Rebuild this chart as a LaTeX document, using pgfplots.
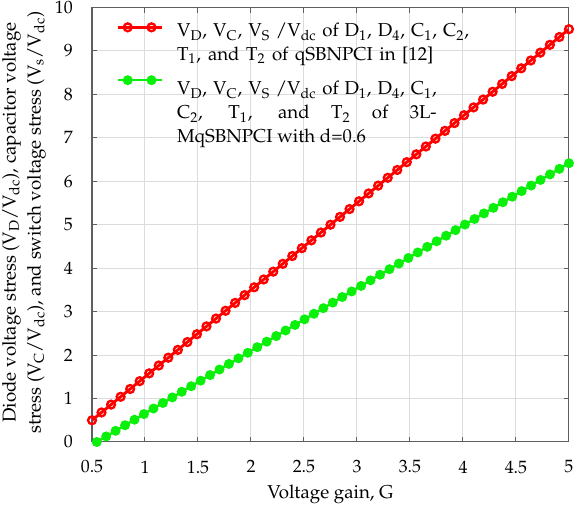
\documentclass[border=0pt]{standalone}
\usepackage[T1]{fontenc}
\usepackage{mathpazo}
\usepackage{pgfplots}
\pgfplotsset{compat=1.18}
\definecolor{myred}{RGB}{255,0,0}
\definecolor{mygreen}{RGB}{10,240,10}
\definecolor{gridgray}{RGB}{220,220,220}
\definecolor{framegray}{RGB}{95,95,95}
\newcommand{\sub}[1]{\textsubscript{#1}}
% struts for the legend rows
\newcommand{\rs}{\rule{0pt}{12.5pt}}
\newcommand{\rsgap}{\rule{0pt}{18.8pt}}
\begin{document}
\begin{tikzpicture}
\begin{axis}[
    width=281pt, height=256pt, scale only axis,
    xmin=0.5, xmax=5, ymin=0, ymax=10,
    xtick={0.5,1,...,5}, ytick={0,1,...,10},
    grid=major, major grid style={gridgray, line width=0.6pt},
    axis line style={framegray, line width=0.6pt},
    tick style={framegray, line width=0.6pt}, tick align=inside,
    major tick length=3pt,
    ticklabel style={font=\fontsize{10.5}{12}\selectfont},
    xticklabel style={yshift=-7.5pt},
    yticklabel style={xshift=-7.8pt},
    xlabel={Voltage gain, G},
    xlabel style={font=\fontsize{11}{13}\selectfont, yshift=0pt},
    ylabel={Diode voltage stress (V\sub{D}/V\sub{dc}), capacitor voltage\\stress (V\sub{C}/V\sub{dc}), and switch voltage stress (V\sub{s}/V\sub{dc})},
    ylabel style={font=\fontsize{11}{14.7}\selectfont, align=center, inner sep=0pt,
      at={(rel axis cs:-0.1427,0.505)}, anchor=center},
    legend cell align=left,
    legend style={at={(rel axis cs:0,1)}, anchor=north west, xshift=14pt, yshift=-4.5pt,
      draw=none, fill=none, inner sep=0pt, row sep=0pt,
      font=\fontsize{11}{13}\selectfont, nodes={inner sep=0pt},
      /tikz/every odd column/.append style={column sep=8.2pt}},
    legend image code/.code={
      \draw[#1, mark=none] (0pt,0pt) -- (26pt,0pt);
      \draw[#1, only marks] plot coordinates {(6pt,0pt) (20pt,0pt)};
    },
]
\addplot[myred, line width=1.7pt, mark=o, mark size=2.3pt,
  mark options={line width=1.4pt}] coordinates {
 (0.50,0.50) (0.59,0.68) (0.68,0.86) (0.77,1.04) (0.86,1.22) (0.95,1.40)
 (1.04,1.58) (1.13,1.76) (1.22,1.94) (1.31,2.12) (1.40,2.30) (1.49,2.48)
 (1.58,2.66) (1.67,2.84) (1.76,3.02) (1.85,3.20) (1.94,3.38) (2.03,3.56)
 (2.12,3.74) (2.21,3.92) (2.30,4.10) (2.39,4.28) (2.48,4.46) (2.57,4.64)
 (2.66,4.82) (2.75,5.00) (2.84,5.18) (2.93,5.36) (3.02,5.54) (3.11,5.72)
 (3.20,5.90) (3.29,6.08) (3.38,6.26) (3.47,6.44) (3.56,6.62) (3.65,6.80)
 (3.74,6.98) (3.83,7.16) (3.92,7.34) (4.01,7.52) (4.10,7.70) (4.19,7.88)
 (4.28,8.06) (4.37,8.24) (4.46,8.42) (4.55,8.60) (4.64,8.78) (4.73,8.96)
 (4.82,9.14) (4.91,9.32) (5.00,9.50)};
\addlegendentry{\rs\makebox[172pt][s]{V\sub{D}, V\sub{C}, V\sub{S} /V\sub{dc} of D\sub{1}, D\sub{4}, C\sub{1}, C\sub{2},}}
\addlegendimage{empty legend}
\addlegendentry{\rs\makebox[151pt][s]{T\sub{1}, and T\sub{2} of qSBNPCI in [12]}}
\addplot[mygreen, line width=1.4pt, mark=*, mark size=2.2pt] coordinates {
 (0.545,0.000) (0.634,0.128) (0.723,0.257) (0.812,0.385) (0.901,0.513)
 (0.990,0.642) (1.080,0.770) (1.169,0.898) (1.258,1.026) (1.347,1.155)
 (1.436,1.283) (1.525,1.411) (1.614,1.540) (1.703,1.668) (1.792,1.796)
 (1.881,1.925) (1.970,2.053) (2.059,2.181) (2.149,2.309) (2.238,2.438)
 (2.327,2.566) (2.416,2.694) (2.505,2.823) (2.594,2.951) (2.683,3.079)
 (2.772,3.208) (2.861,3.336) (2.950,3.464) (3.039,3.592) (3.128,3.721)
 (3.218,3.849) (3.307,3.977) (3.396,4.106) (3.485,4.234) (3.574,4.362)
 (3.663,4.491) (3.752,4.619) (3.841,4.747) (3.930,4.875) (4.019,5.004)
 (4.109,5.132) (4.198,5.260) (4.287,5.389) (4.376,5.517) (4.465,5.645)
 (4.554,5.774) (4.643,5.902) (4.732,6.030) (4.821,6.158) (4.910,6.287)
 (5.000,6.415)};
\addlegendentry{\rsgap\makebox[153pt][s]{V\sub{D}, V\sub{C}, V\sub{S} /V\sub{dc} of D\sub{1}, D\sub{4}, C\sub{1},}}
\addlegendimage{empty legend}
\addlegendentry{\rs\makebox[153pt][s]{C\sub{2}, T\sub{1}, and T\sub{2} of 3L-}}
\addlegendimage{empty legend}
\addlegendentry{\rs MqSBNPCI with d=0.6}
\end{axis}
\pgfresetboundingbox
\path (-54.2pt,-41.2pt) rectangle (288.1pt,260.4pt);
\end{tikzpicture}
\end{document}
